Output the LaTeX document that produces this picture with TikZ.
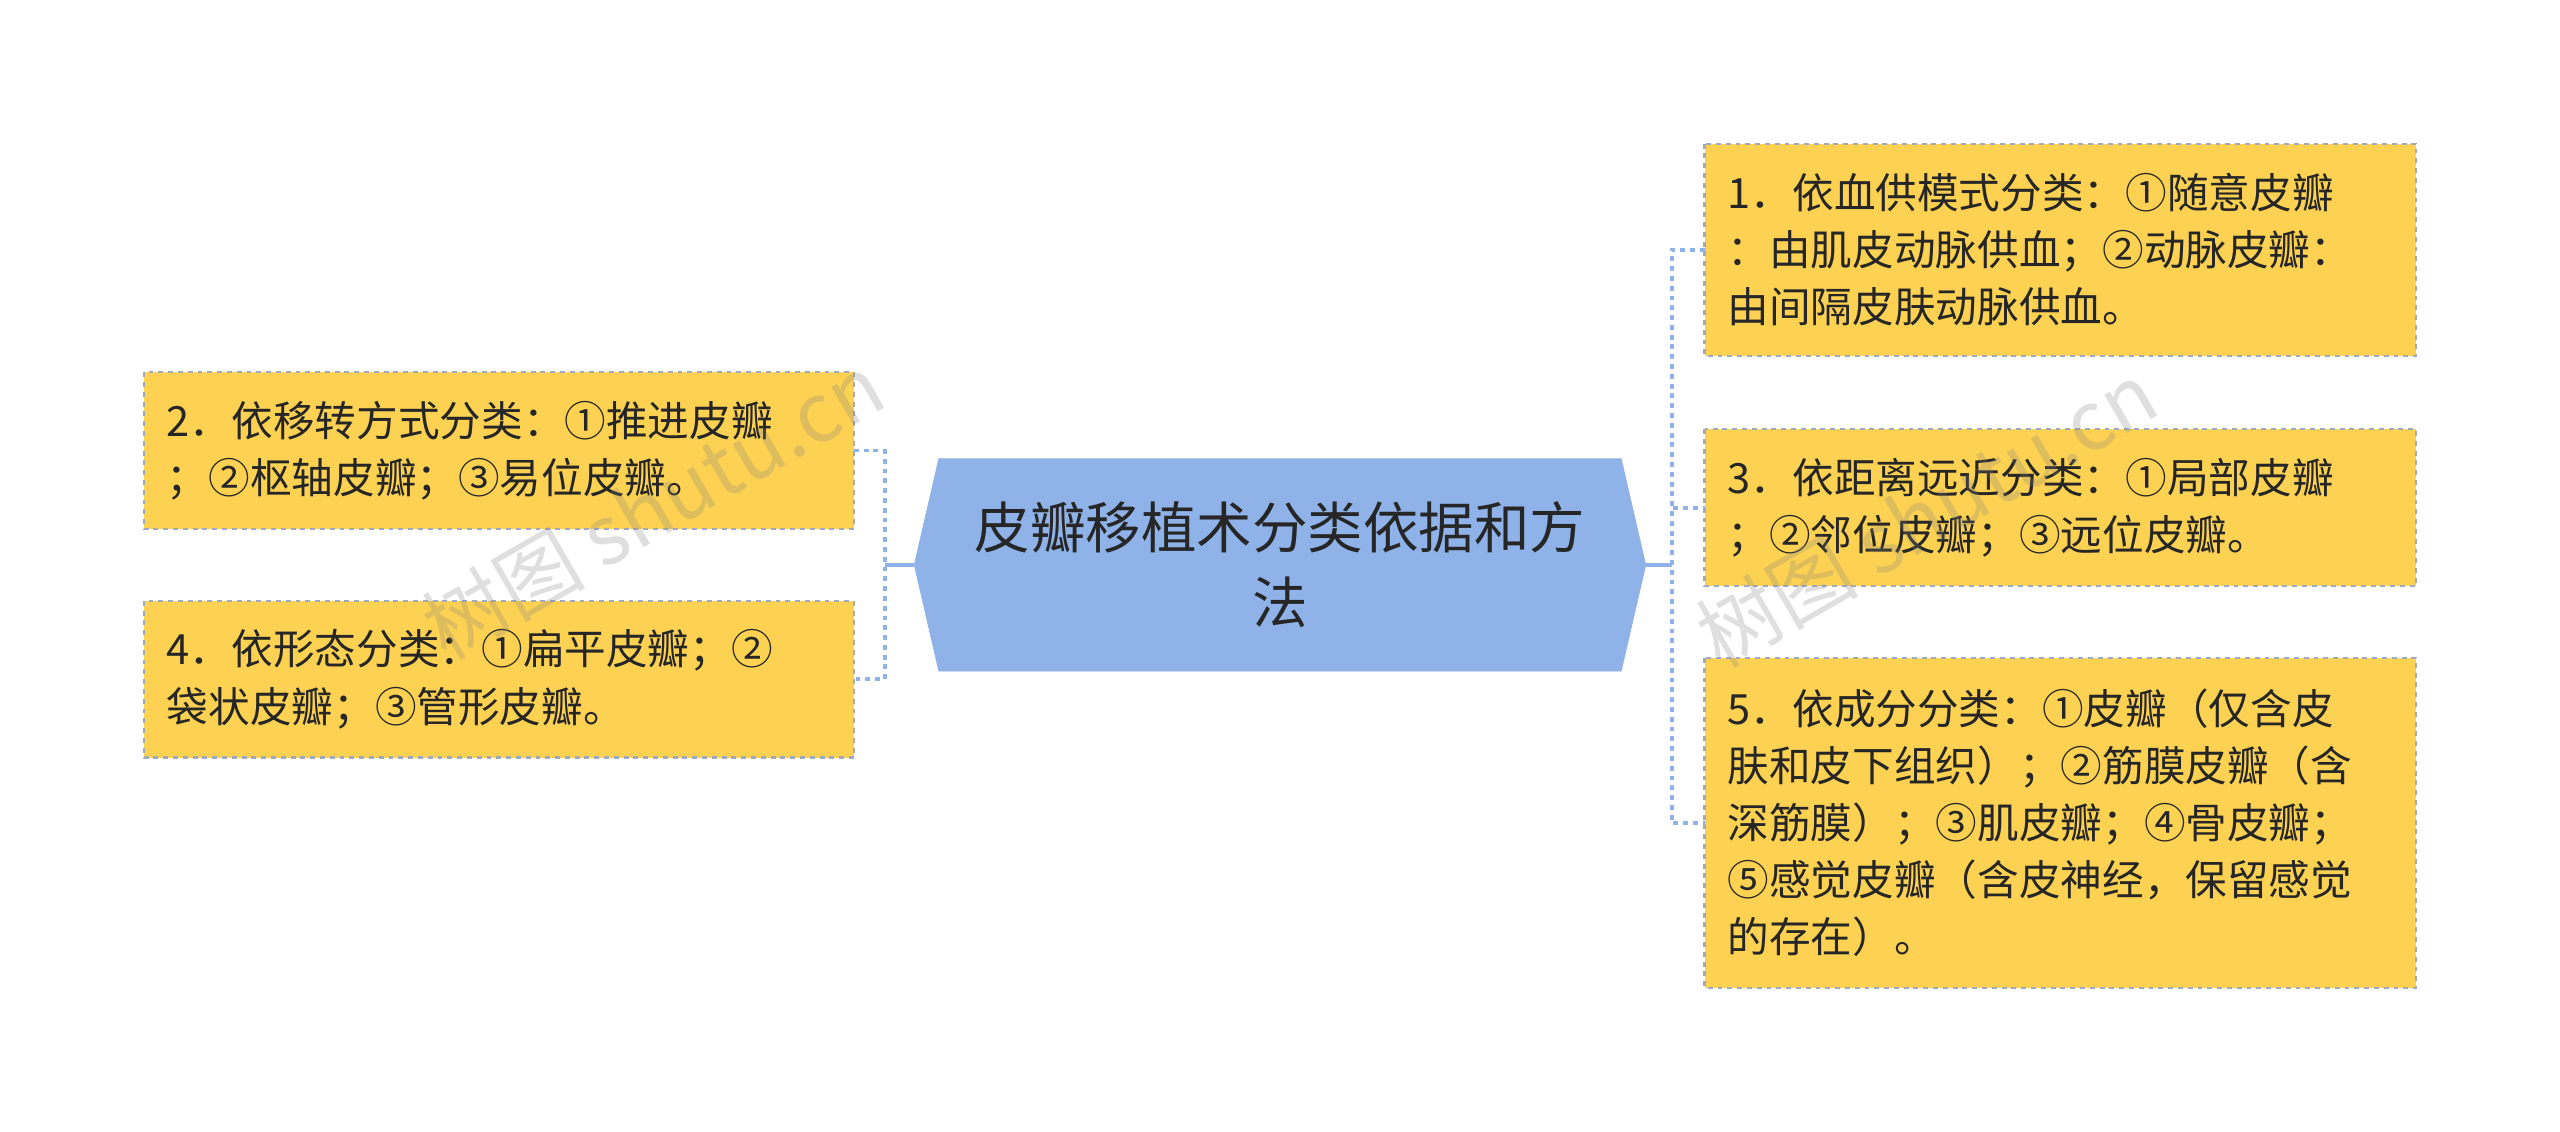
\documentclass[tikz,border=0pt]{standalone}
\usepackage{fontspec}
\setmainfont{Noto Sans CJK SC}
\begin{document}
\begin{tikzpicture}[x=1pt,y=-1pt,
  box/.style={draw={rgb,255:red,160;green,170;blue,190},dashed,line width=1.3pt,fill={rgb,255:red,253;green,210;blue,82}},
  txt/.style={anchor=west,align=left,font=\fontsize{25.5}{35}\selectfont,text=black!85,inner sep=0},
  conn/.style={draw={rgb,255:red,143;green,179;blue,232},line width=2.2pt,dashed},
  wm/.style={text=gray,text opacity=0.25,font=\fontsize{50}{50}\selectfont,rotate=30}]
\useasboundingbox (0,0) rectangle (1568,693);
\fill[white] (0,0) rectangle (1568,693);
% center
\draw[fill={rgb,255:red,143;green,179;blue,232},draw={rgb,255:red,143;green,179;blue,232}] (560,346)--(575,281)--(993,281)--(1008,346)--(993,411)--(575,411)--cycle;
\node[align=center,font=\fontsize{34}{46}\selectfont,text=black!85] (c) at (784,346) {皮瓣移植术分类依据和方\\法};
\coordinate (cr) at (1008,346); \coordinate (cl) at (560,346);
% right boxes
\draw[box] (1044,88) rectangle (1480,218); \coordinate (b1) at (1044,153);
\node[txt] (t1) at (1058,153) {1．依血供模式分类：①随意皮瓣\\：由肌皮动脉供血；②动脉皮瓣：\\由间隔皮肤动脉供血。};
\draw[box] (1044,263) rectangle (1480,359); \coordinate (b3) at (1044,311);
\node[txt] (t3) at (1058,311) {3．依距离远近分类：①局部皮瓣\\；②邻位皮瓣；③远位皮瓣。};
\draw[box] (1044,403) rectangle (1480,605); \coordinate (b5) at (1044,504);
\node[txt] (t5) at (1058,504) {5．依成分分类：①皮瓣（仅含皮\\肤和皮下组织）；②筋膜皮瓣（含\\深筋膜）；③肌皮瓣；④骨皮瓣；\\⑤感觉皮瓣（含皮神经，保留感觉\\的存在）。};
% left boxes
\draw[box] (88,228) rectangle (523,324); \coordinate (b2) at (523,276);
\node[txt] (t2) at (102,276) {2．依移转方式分类：①推进皮瓣\\；②枢轴皮瓣；③易位皮瓣。};
\draw[box] (88,368) rectangle (523,464); \coordinate (b4) at (523,416);
\node[txt] (t4) at (102,416) {4．依形态分类：①扁平皮瓣；②\\袋状皮瓣；③管形皮瓣。};
% connectors
\draw[conn,solid] (cr) -- (1024,346);
\draw[conn] (b1) -| (1024,346) |- (b5);
\draw[conn] (1024,346) |- (b3);
\draw[conn,solid] (cl) -- (542,346);
\draw[conn] (b2) -| (542,346) |- (b4);
% watermarks
\node[wm] (w1) at (400,310) {树图 shutu.cn};
\node[wm] (w2) at (1180,315) {树图 shutu.cn};
\end{tikzpicture}
\end{document}
